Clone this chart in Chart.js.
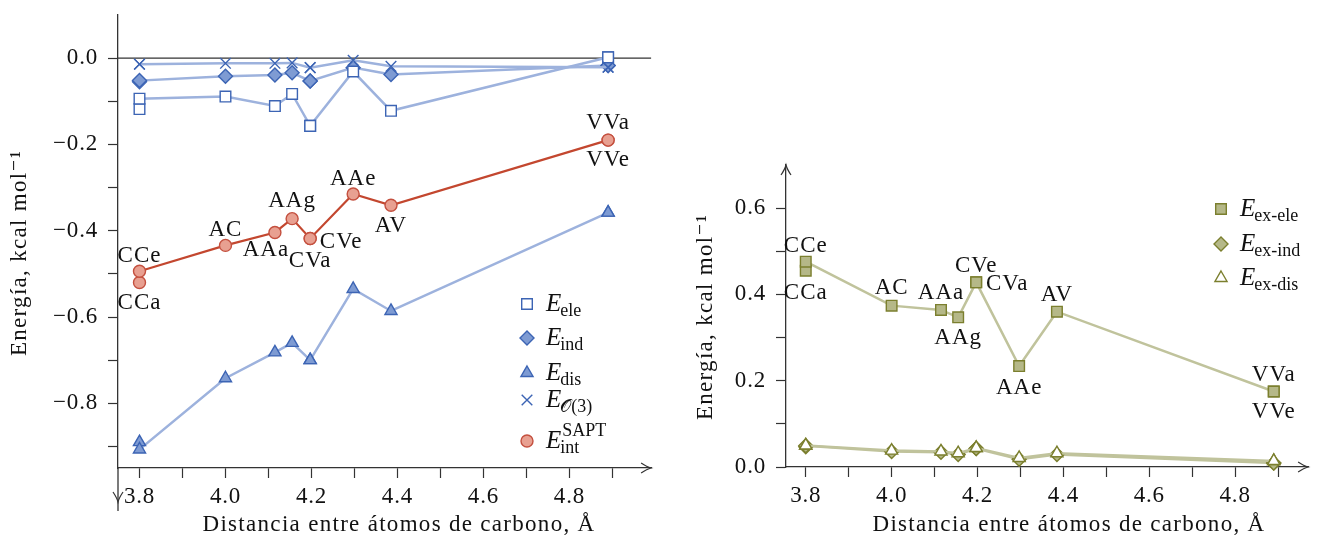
<!DOCTYPE html>
<html>
<head>
<meta charset="utf-8">
<script src="https://cdn.jsdelivr.net/npm/chart.js@4.4.1/dist/chart.umd.min.js"></script>
<style>
  body { margin: 0; background: #fff; }
  #wrap { position: relative; width: 1317px; height: 535px; }
  canvas { position: absolute; top: 0; }
</style>
</head>
<body>
<div id="wrap">
  <canvas id="left" width="660" height="535" style="left:0"></canvas>
  <canvas id="right" width="657" height="535" style="left:660px"></canvas>
</div>
<script>
// systems, in order of C–C distance (two conformers share some distances)
const systems  = ['CCa', 'CCe', 'AC', 'AAa', 'AAg', 'CVa', 'CVe', 'AAe', 'AV', 'VVe', 'VVa'];
const distance = [3.8, 3.8, 4.0, 4.115, 4.155, 4.197, 4.197, 4.297, 4.385, 4.89, 4.89];

// left panel: SAPT components, kcal/mol
const eEle = [-0.118, -0.094, -0.089, -0.111, -0.083, -0.157, -0.157, -0.031, -0.122, 0.002, 0.002];
const eInd = [-0.055, -0.052, -0.042, -0.039, -0.034, -0.053, -0.053, -0.022, -0.038, -0.017, -0.017];
const eDis = [-0.890, -0.907, -0.742, -0.682, -0.660, -0.700, -0.700, -0.535, -0.586, -0.358, -0.358];
const eO3  = [-0.014, -0.014, -0.012, -0.012, -0.011, -0.022, -0.022, -0.005, -0.019, -0.021, -0.021];
const eInt = [-0.520, -0.494, -0.434, -0.404, -0.372, -0.418, -0.418, -0.315, -0.341, -0.190, -0.190];

// right panel: exchange terms, kcal/mol
const eExEle = [0.455, 0.476, 0.374, 0.364, 0.347, 0.428, 0.428, 0.234, 0.360, 0.175, 0.175];
const eExInd = [0.047, 0.049, 0.036, 0.034, 0.029, 0.043, 0.043, 0.018, 0.029, 0.009, 0.009];
const eExDis = [0.050, 0.050, 0.038, 0.036, 0.032, 0.044, 0.044, 0.021, 0.032, 0.014, 0.014];

// ticks
const xTicks      = [3.8, 3.9, 4.0, 4.1, 4.2, 4.3, 4.4, 4.5, 4.6, 4.7, 4.8, 4.9];
const leftYTicks  = [0.0, -0.1, -0.2, -0.3, -0.4, -0.5, -0.6, -0.7, -0.8, -0.9];
const rightYTicks = [0.0, 0.1, 0.2, 0.3, 0.4, 0.5, 0.6];

const xTitle = 'Distancia entre átomos de carbono, Å';
const yTitle = 'Energía, kcal mol⁻¹';

// where each system name sits relative to its point (px)
const leftLabelOffsets = {
  CCa: [0, 20], CCe: [0, -15], AC: [0, -15], AAa: [-9, 18], AAg: [0, -18],
  CVa: [0, 22], CVe: [31, 3], AAe: [0, -15], AV: [0, 21], VVe: [0, 20], VVa: [0, -17]
};
const rightLabelOffsets = {
  CCa: [0, 22], CCe: [0, -16], AC: [0, -18], AAa: [0, -17], AAg: [0, 21],
  CVa: [31, 2], CVe: [0, -16], AAe: [0, 22], AV: [0, -17], VVe: [0, 20], VVa: [0, -17]
};

const SERIF = "'Liberation Serif', 'DejaVu Serif', serif";
const INK = '#111';
const AXIS = '#333';

const BLUE  = { line: '#9DB2DD', edge: '#3C64B4', fill: '#7E9BD3' };
const RED   = { line: '#C3472F', edge: '#C4503F', fill: '#E8A091' };
const OLIVE = { line: '#C0C39C', edge: '#7B7F2E', fill: '#B5B888' };

function series(label, values, c, style, radius, fill, lw) {
  return {
    label,
    data: distance.map((x, i) => ({ x, y: values[i] })),
    borderColor: c.line,
    borderWidth: lw,
    pointStyle: style,
    pointRadius: radius,
    pointBackgroundColor: fill,
    pointBorderColor: c.edge,
    pointBorderWidth: 1.4,
    tension: 0,
    fill: false,
    clip: false,
  };
}

function fmt(v) {
  const s = Math.abs(v).toFixed(1);
  return v < -1e-9 ? '\u2212' + s : s;
}

function arrow(ctx, x, y, dir) {
  const L = 10, W = 5;
  ctx.save();
  ctx.translate(x, y);
  ctx.rotate({ right: 0, up: -Math.PI / 2, down: Math.PI / 2 }[dir]);
  ctx.beginPath();
  ctx.moveTo(-L, -W);
  ctx.quadraticCurveTo(-4, -1, 0, 0);
  ctx.quadraticCurveTo(-4, 1, -L, W);
  ctx.strokeStyle = AXIS;
  ctx.lineWidth = 1.2;
  ctx.stroke();
  ctx.restore();
}

// E with subscript/superscript, drawn as canvas text
function drawE(ctx, x, y, sub, sup) {
  ctx.save();
  ctx.fillStyle = INK;
  ctx.letterSpacing = '0px';
  ctx.textBaseline = 'alphabetic';
  ctx.textAlign = 'left';
  ctx.font = 'italic 25px ' + SERIF;
  ctx.fillText('E', x, y);
  const w = ctx.measureText('E').width;
  ctx.font = '18px ' + SERIF;
  ctx.fillText(sub, x + w - 1, y + 5);
  if (sup) ctx.fillText(sup, x + w + 1, y - 12);
  ctx.restore();
}

function panelPlugin(cfg) {
  return {
    id: 'panel_' + cfg.id,
    beforeDraw(chart) {
      // slightly wider tracking for the tick labels
      chart.ctx.letterSpacing = '0.8px';
    },
    beforeDatasetsDraw(chart) {
      const { ctx, chartArea, scales } = chart;
      if (cfg.zeroLine) {
        const y0 = scales.y.getPixelForValue(0);
        ctx.save();
        ctx.strokeStyle = AXIS;
        ctx.lineWidth = 1.3;
        ctx.beginPath();
        ctx.moveTo(chartArea.left, y0);
        ctx.lineTo(chartArea.right, y0);
        ctx.stroke();
        ctx.restore();
      }
    },
    afterDraw(chart) {
      const { ctx, chartArea, scales } = chart;
      const xa = scales.x, ya = scales.y;

      // arrows
      arrow(ctx, chartArea.right, chartArea.bottom, 'right');
      if (cfg.yArrowUp) arrow(ctx, chartArea.left, chartArea.top, 'up');
      if (cfg.yTail) {
        ctx.save();
        ctx.strokeStyle = AXIS;
        ctx.lineWidth = 1.3;
        ctx.beginPath();
        ctx.moveTo(chartArea.left, chartArea.bottom);
        ctx.lineTo(chartArea.left, chartArea.bottom + cfg.yTail);
        ctx.stroke();
        ctx.restore();
        arrow(ctx, chartArea.left, chartArea.bottom + cfg.yTail - 9, 'down');
      }

      // system names
      const ds = chart.data.datasets[cfg.labelDataset];
      ctx.save();
      ctx.font = '23px ' + SERIF;
      ctx.letterSpacing = '1px';
      ctx.fillStyle = INK;
      ctx.textAlign = 'center';
      ctx.textBaseline = 'middle';
      systems.forEach((name, i) => {
        const off = cfg.labelOffsets[name];
        const px = xa.getPixelForValue(ds.data[i].x) + off[0];
        const py = ya.getPixelForValue(ds.data[i].y) + off[1];
        ctx.fillText(name, px, py);
      });
      ctx.restore();

      // legend
      cfg.legend.forEach((item, k) => {
        const d = chart.data.datasets[item.ds];
        const mx = cfg.legendX, my = cfg.legendY[k];
        ctx.save();
        ctx.fillStyle = d.pointBackgroundColor;
        ctx.strokeStyle = d.pointBorderColor;
        ctx.lineWidth = d.pointBorderWidth;
        Chart.helpers.drawPoint(ctx, {
          pointStyle: d.pointStyle, radius: d.pointRadius,
          borderWidth: d.pointBorderWidth, rotation: 0
        }, mx, my);
        ctx.restore();
        drawE(ctx, mx + 19, my + 7, item.sub, item.sup);
      });

      // axis titles
      ctx.save();
      ctx.fillStyle = INK;
      ctx.font = '23px ' + SERIF;
      ctx.letterSpacing = '1.3px';
      ctx.textAlign = 'center';
      ctx.textBaseline = 'alphabetic';
      ctx.fillText(xTitle, cfg.xTitle[0], cfg.xTitle[1]);
      ctx.translate(cfg.yTitle[0], cfg.yTitle[1]);
      ctx.rotate(-Math.PI / 2);
      ctx.fillText(yTitle, 0, 0);
      ctx.restore();
    }
  };
}

function axisOptions(min, max, ticks, yWidth, xHeight) {
  const tickFont = { family: SERIF, size: 23 };
  return {
    x: {
      type: 'linear', min: min[0], max: max[0],
      border: { display: true, color: AXIS, width: 1.3 },
      grid: { drawOnChartArea: false, drawTicks: true, tickLength: 10, tickColor: AXIS, tickWidth: 1.2 },
      ticks: {
        font: tickFont, color: INK, padding: 5, maxRotation: 0,
        callback: v => (Math.round(v * 10) % 2 === 0 ? v.toFixed(1) : '')
      },
      afterBuildTicks: s => { s.ticks = xTicks.map(v => ({ value: v })); },
      afterFit: s => { s.height = xHeight; s.paddingLeft = 0; s.paddingRight = 0; }
    },
    y: {
      type: 'linear', min: min[1], max: max[1],
      border: { display: true, color: AXIS, width: 1.3 },
      grid: { drawOnChartArea: false, drawTicks: true, tickLength: 10, tickColor: AXIS, tickWidth: 1.2 },
      ticks: {
        font: tickFont, color: INK, padding: 10,
        callback: v => (Math.round(Math.abs(v) * 10) % 2 === 0 ? fmt(v) : '')
      },
      afterBuildTicks: s => { s.ticks = ticks.map(v => ({ value: v })); },
      afterFit: s => { s.width = yWidth; s.paddingTop = 0; s.paddingBottom = 0; }
    }
  };
}

const common = {
  responsive: false,
  animation: false,
  events: [],
  plugins: { legend: { display: false }, tooltip: { enabled: false } },
};

new Chart(document.getElementById('left'), {
  type: 'line',
  data: {
    datasets: [
      series('E_O3', eO3, BLUE, 'crossRot', 7.5, BLUE.edge, 2.5),
      series('E_ele', eEle, BLUE, 'rect', 7.5, '#ffffff', 2.5),
      series('E_ind', eInd, BLUE, 'rectRot', 7, BLUE.fill, 2.5),
      series('E_dis', eDis, BLUE, 'triangle', 7, BLUE.fill, 2.5),
      series('E_int', eInt, RED, 'circle', 6, RED.fill, 2.2),
    ]
  },
  options: {
    ...common,
    layout: { padding: { left: 0, right: 3, top: 15, bottom: 0 } },
    scales: axisOptions([3.75, -0.95], [4.99, 0.1], leftYTicks, 118, 67),
  },
  plugins: [panelPlugin({
    id: 'left', zeroLine: true, yArrowUp: false, yTail: 43,
    labelDataset: 4, labelOffsets: leftLabelOffsets,
    legendX: 527, legendY: [304, 338, 373, 400, 441],
    legend: [
      { ds: 1, sub: 'ele' }, { ds: 2, sub: 'ind' }, { ds: 3, sub: 'dis' },
      { ds: 0, sub: '𝒪(3)' }, { ds: 4, sub: 'int', sup: 'SAPT' }
    ],
    xTitle: [399, 531], yTitle: [26, 253],
  })]
});

new Chart(document.getElementById('right'), {
  type: 'line',
  data: {
    datasets: [
      series('E_ex-dis', eExDis, OLIVE, 'triangle', 7, '#ffffff', 2.5),
      series('E_ex-ind', eExInd, OLIVE, 'rectRot', 7, OLIVE.fill, 2.5),
      series('E_ex-ele', eExEle, OLIVE, 'rect', 7.5, OLIVE.fill, 2.5),
    ]
  },
  options: {
    ...common,
    layout: { padding: { left: 0, right: 4, top: 165, bottom: 0 } },
    scales: axisOptions([3.754, 0], [4.97, 0.7], rightYTicks, 126, 68),
  },
  plugins: [panelPlugin({
    id: 'right', zeroLine: false, yArrowUp: true, yTail: 0,
    labelDataset: 2, labelOffsets: rightLabelOffsets,
    legendX: 561, legendY: [209, 244, 278],
    legend: [
      { ds: 2, sub: 'ex-ele' }, { ds: 1, sub: 'ex-ind' }, { ds: 0, sub: 'ex-dis' }
    ],
    xTitle: [409, 531], yTitle: [52, 317],
  })]
});
</script>
</body>
</html>
